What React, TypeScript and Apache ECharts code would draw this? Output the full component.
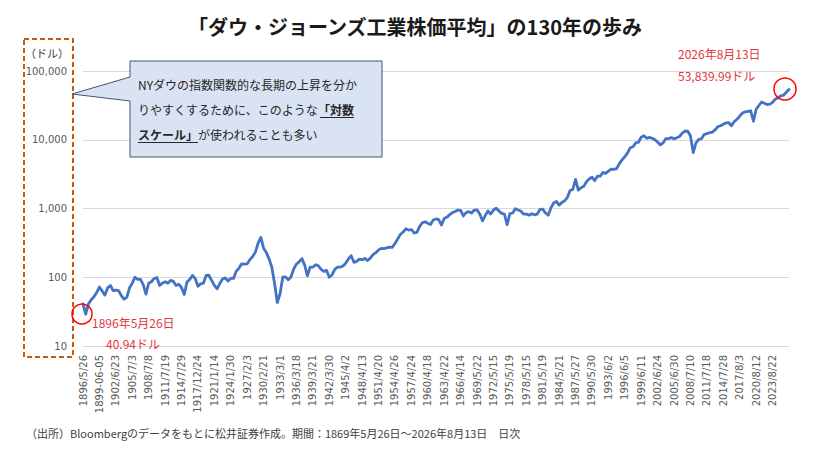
import React, { useEffect, useRef } from "react";
import * as echarts from "echarts";

// x-axis tick labels (one every 6 half-year points)
const dateLabels: string[] = [
  "1896/5/26", "1899-06-05", "1902/6/23", "1905/7/3", "1908/7/8", "1911/7/19",
  "1914/7/29", "1917/12/24", "1921/1/14", "1924/1/30", "1927/2/3", "1930/2/21",
  "1933/3/1", "1936/3/18", "1939/3/21", "1942/3/30", "1945/4/2", "1948/4/13",
  "1951/4/20", "1954/4/26", "1957/4/24", "1960/4/18", "1963/4/22", "1966/4/14",
  "1969/5/22", "1972/5/15", "1975/5/19", "1978/5/15", "1981/5/19", "1984/5/21",
  "1987/5/27", "1990/5/30", "1993/6/2", "1996/6/5", "1999/6/11", "2002/6/24",
  "2005/6/30", "2008/7/10", "2011/7/18", "2014/7/28", "2017/8/3", "2020/8/12",
  "2023/8/22",
];

// Dow Jones Industrial Average, roughly every half year
const dow1896to1932: number[] = [
  40.94, 29, 41, 47, 52, 60,
  72, 63, 55, 70, 76, 64,
  65, 64, 54, 48, 51, 70,
  82, 100, 93, 93, 78, 57,
  82, 86, 96, 99, 76, 82,
  86, 82, 90, 87, 76, 79,
  71, 56, 85, 93, 106, 96,
  74, 80, 82, 106, 107, 90,
  76, 68, 81, 94, 98, 88,
  96, 96, 122, 136, 157, 155,
  157, 180, 200, 232, 315, 380,
  265, 228, 185, 140, 82, 43,
];
const dow1933to1968: number[] = [
  57, 100, 101, 92, 101, 132,
  155, 167, 187, 150, 105, 140,
  140, 152, 147, 130, 122, 126,
  100, 108, 130, 140, 140, 146,
  160, 185, 206, 165, 170, 183,
  180, 188, 175, 190, 214, 228,
  250, 263, 260, 268, 275, 272,
  310, 360, 420, 455, 510, 485,
  495, 440, 450, 545, 620, 640,
  610, 585, 680, 705, 690, 575,
  715, 750, 815, 870, 905, 950,
  940, 780, 870, 900, 860, 950,
];
const dow1969to2002: number[] = [
  955, 830, 660, 790, 920, 830,
  950, 1010, 920, 850, 830, 580,
  840, 860, 990, 950, 920, 830,
  830, 800, 840, 810, 830, 970,
  980, 860, 800, 1020, 1200, 1270,
  1120, 1220, 1290, 1450, 1830, 1900,
  2650, 1850, 2000, 2100, 2450, 2700,
  2850, 2550, 2950, 2950, 3350, 3250,
  3500, 3750, 3700, 3800, 4500, 5100,
  5650, 6450, 7650, 7900, 9000, 9200,
  10900, 11450, 10500, 10800, 10500, 10000,
];
const dow2002to2026: number[] = [
  9250, 8400, 9000, 10400, 10400, 10750,
  10300, 10700, 11150, 12450, 13400, 13300,
  11350, 6500, 9000, 10100, 10300, 11900,
  12300, 12650, 12900, 13900, 15500, 16000,
  16800, 17600, 17700, 16000, 18400, 19900,
  22000, 24500, 25500, 25800, 26400, 18600,
  27800, 31500, 35400, 34000, 32500, 33000,
  35000, 38900, 40800, 43500, 44500, 49000,
  53839.99,
];
const dowValues: number[] = [
  ...dow1896to1932,
  ...dow1933to1968,
  ...dow1969to2002,
  ...dow2002to2026,
];

const titleText = "「ダウ・ジョーンズ工業株価平均」の130年の歩み";
const unitText = "（ドル）";
const startDateText = "1896年5月26日";
const startValueText = "40.94ドル";
const endDateText = "2026年8月13日";
const endValueText = "53,839.99ドル";
const sourceText =
  "（出所）Bloombergのデータをもとに松井証券作成。期間：1869年5月26日～2026年8月13日　日次";

export default function App() {
  const ref = useRef<HTMLDivElement>(null);

  useEffect(() => {
    document.body.style.margin = "0";
    const chart = echarts.init(ref.current!, null, { renderer: "svg" });
    const jp = '"Noto Sans CJK JP", "Noto Sans", sans-serif';
    const red = "#E0393E";
    const labelGray = "#595959";
    const step = 6;

    const textEl = (
      x: number,
      y: number,
      text: string,
      size: number,
      fill: string,
      weight: string = "normal",
      align: string = "left"
    ) => ({
      type: "text",
      z: 110,
      x,
      y,
      style: {
        text,
        fontSize: size,
        fontWeight: weight,
        fontFamily: jp,
        fill,
        align,
        verticalAlign: "middle",
      },
    });

    const option: any = {
      animation: false,
      backgroundColor: "#ffffff",
      grid: { left: 83, right: 28, top: 71, bottom: 115, containLabel: false },
      xAxis: {
        type: "value",
        min: 0,
        max: dowValues.length - 1,
        interval: step,
        axisLine: { show: true, lineStyle: { color: "#d9d9d9", width: 1 } },
        axisTick: { show: false },
        splitLine: { show: false },
        axisLabel: {
          rotate: 90,
          margin: 9,
          fontSize: 10,
          color: labelGray,
          fontFamily: "DejaVu Sans",
          formatter: (v: number) =>
            v % step === 0 ? dateLabels[v / step] ?? "" : "",
        },
      },
      yAxis: {
        type: "log",
        logBase: 10,
        min: 10,
        max: 100000,
        axisLine: { show: false },
        axisTick: { show: false },
        splitLine: { show: true, lineStyle: { color: "#d9d9d9", width: 1 } },
        axisLabel: {
          margin: 16,
          fontSize: 10,
          color: labelGray,
          fontFamily: "DejaVu Sans",
          formatter: (v: number) => Math.round(v).toLocaleString("en-US"),
        },
      },
      series: [
        {
          type: "line",
          data: dowValues.map((v, i) => [i, v]),
          showSymbol: false,
          lineStyle: { color: "#4472C4", width: 2.8, join: "round", cap: "round" },
          itemStyle: { color: "#4472C4" },
          z: 5,
        },
      ],
      graphic: [
        textEl(415, 26, titleText, 20, "#1a1a1a", "bold", "center"),
        {
          type: "rect",
          z: 100,
          shape: { x: 24, y: 39, width: 49, height: 318 },
          style: { fill: "none", stroke: "#C55A11", lineWidth: 2, lineDash: [5, 3] },
        },
        textEl(25, 53, unitText, 11, "#404040"),
        {
          type: "polygon",
          z: 100,
          shape: {
            points: [
              [130, 61],
              [382, 61],
              [382, 157],
              [130, 157],
              [130, 101],
              [72, 94],
              [130, 77],
            ],
          },
          style: { fill: "#DAE3F3", stroke: "#44546A", lineWidth: 1 },
        },
        textEl(138, 84, "NYダウの指数関数的な長期の上昇を分か", 12, "#262626"),
        textEl(138, 109, "りやすくするために、このような", 12, "#262626"),
        textEl(318, 109, "「対数", 12, "#262626", "bold"),
        textEl(138, 134, "スケール」", 12, "#262626", "bold"),
        textEl(198, 134, "が使われることも多い", 12, "#262626"),
        {
          type: "line",
          z: 110,
          shape: { x1: 320, y1: 117.5, x2: 354, y2: 117.5 },
          style: { stroke: "#262626", lineWidth: 1.2 },
        },
        {
          type: "line",
          z: 110,
          shape: { x1: 138, y1: 142.5, x2: 198, y2: 142.5 },
          style: { stroke: "#262626", lineWidth: 1.2 },
        },
        {
          type: "circle",
          z: 110,
          shape: { cx: 82, cy: 314, r: 10 },
          style: { fill: "none", stroke: "#FF0000", lineWidth: 1.5 },
        },
        {
          type: "circle",
          z: 110,
          shape: { cx: 785, cy: 89, r: 11 },
          style: { fill: "none", stroke: "#FF0000", lineWidth: 1.5 },
        },
        textEl(92, 322, startDateText, 12, red),
        textEl(106, 343, startValueText, 12, red),
        textEl(678, 53, endDateText, 12, red),
        textEl(678, 75, endValueText, 12, red),
        textEl(26, 433, sourceText, 11, "#404040"),
      ],
    };

    chart.setOption(option);
    return () => {
      chart.dispose();
    };
  }, []);

  return <div ref={ref} style={{ width: 817, height: 461 }} />;
}
